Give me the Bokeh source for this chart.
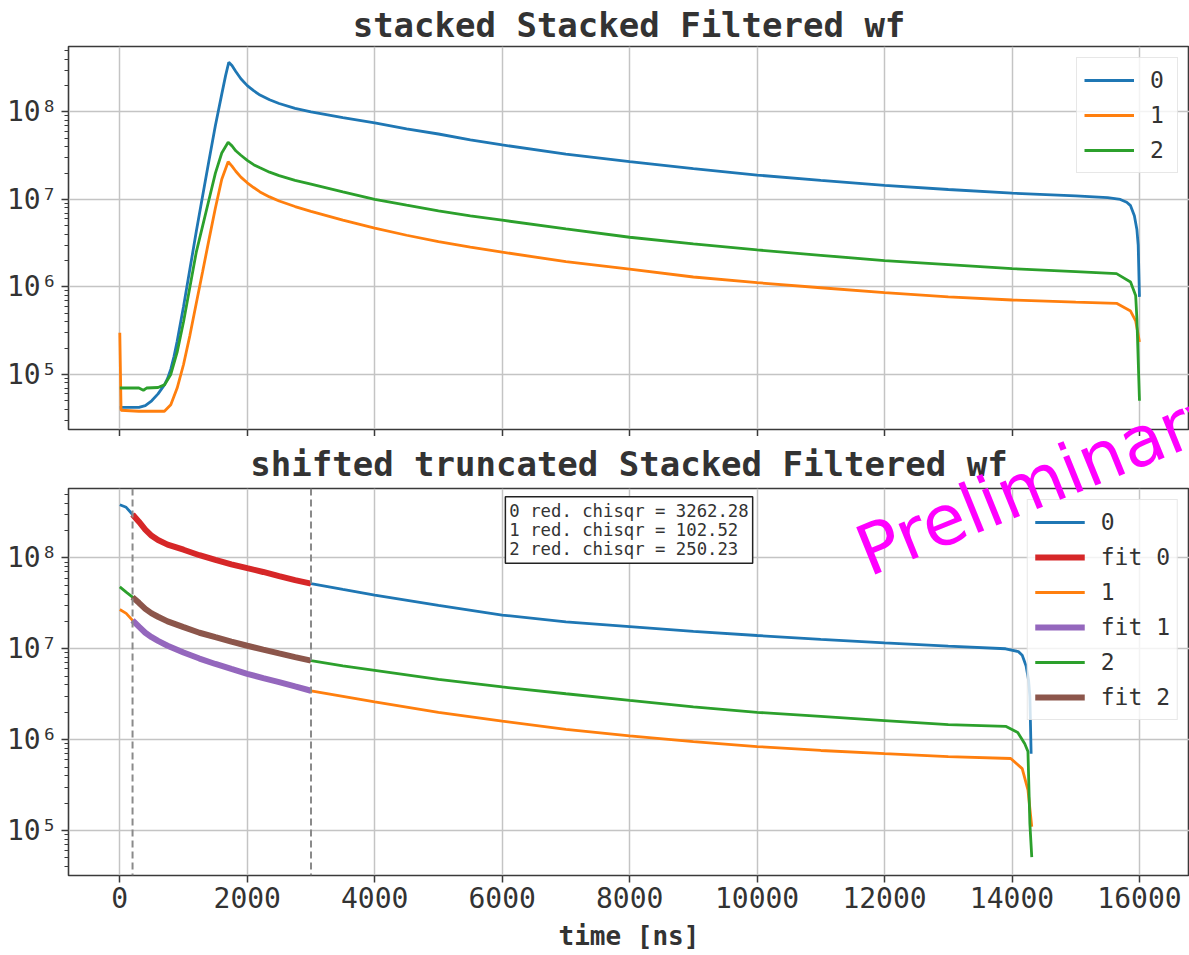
from bokeh.plotting import figure
from bokeh.layouts import column
from bokeh.models import (Range1d, Legend, LegendItem, Label, Span, Div,
                          CustomJSTickFormatter, SingleIntervalTicker, LogTicker)
from bokeh.embed import file_html
from bokeh.resources import INLINE

# ---------------- data ----------------
# top panel: stacked filtered waveforms
top0_x = [0, 100, 300, 400, 500, 600, 700, 750, 800, 850, 900, 950, 1000, 1100, 1200, 1300, 1400, 1500, 1600, 1660, 1710,
          1760, 1820, 1900, 2000, 2100, 2200, 2350, 2500, 2750, 3000, 3500, 4000, 4500, 5000, 5500, 6000, 7000, 8000, 9000, 10000,
          11000, 12000, 13000, 14000, 15000, 15500, 15700, 15800, 15860, 15920, 15960, 15980, 16000]
top0_y = [4.2e4, 4.2e4, 4.2e4, 4.4e4, 5.0e4, 6.0e4, 7.6e4, 9.0e4, 1.15e5, 1.6e5, 2.4e5, 3.8e5, 6.0e5, 1.6e6, 4.3e6, 1.1e7, 2.8e7, 7.0e7, 1.6e8, 2.6e8, 3.7e8,
          3.4e8, 2.9e8, 2.4e8, 2.0e8, 1.75e8, 1.56e8, 1.38e8, 1.25e8, 1.1e8, 1.0e8, 8.6e7, 7.5e7, 6.4e7, 5.6e7, 4.8e7, 4.2e7, 3.3e7, 2.7e7, 2.25e7, 1.9e7,
          1.65e7, 1.45e7, 1.3e7, 1.18e7, 1.1e7, 1.05e7, 1.0e7, 9.3e6, 8.5e6, 6.5e6, 4.5e6, 3.0e6, 7.7e5]

top1_x = [0, 20, 300, 700, 800, 900, 1000, 1100, 1200, 1300, 1400, 1500, 1600, 1700,
          1760, 1820, 1900, 2000, 2100, 2200, 2350, 2500, 2750, 3000, 3500, 4000, 4500, 5000, 5500, 6000, 7000, 8000, 9000, 10000,
          11000, 12000, 13000, 14000, 15000, 15640, 15860, 15940, 16000]
top1_y = [3.0e5, 3.9e4, 3.8e4, 3.8e4, 4.5e4, 7.0e4, 1.3e5, 2.8e5, 6.5e5, 1.5e6, 3.5e6, 8.0e6, 1.7e7, 2.7e7,
          2.4e7, 2.1e7, 1.8e7, 1.55e7, 1.37e7, 1.22e7, 1.07e7, 9.6e6, 8.3e6, 7.3e6, 5.8e6, 4.7e6, 3.9e6, 3.3e6, 2.85e6, 2.5e6, 1.95e6, 1.6e6, 1.3e6, 1.12e6,
          9.8e5, 8.6e5, 7.7e5, 7.1e5, 6.7e5, 6.5e5, 5.3e5, 4.1e5, 2.35e5]

top2_x = [0, 300, 370, 420, 600, 700, 800, 900, 1000, 1100, 1200, 1300, 1400, 1500, 1600, 1700,
          1760, 1820, 1900, 2000, 2100, 2200, 2350, 2500, 2750, 3000, 3500, 4000, 4500, 5000, 5500, 6000, 7000, 8000, 9000, 10000,
          11000, 12000, 13000, 14000, 15000, 15640, 15860, 15940, 15960, 16000]
top2_y = [7.0e4, 7.0e4, 6.6e4, 7.0e4, 7.1e4, 7.6e4, 1.0e5, 1.8e5, 4.0e5, 1.0e6, 2.5e6, 5.0e6, 1.0e7, 2.0e7, 3.4e7, 4.5e7,
          4.1e7, 3.6e7, 3.2e7, 2.8e7, 2.5e7, 2.3e7, 2.05e7, 1.87e7, 1.65e7, 1.5e7, 1.22e7, 1.0e7, 8.6e6, 7.4e6, 6.5e6, 5.8e6, 4.6e6, 3.7e6, 3.1e6, 2.65e6,
          2.3e6, 2.0e6, 1.8e6, 1.62e6, 1.5e6, 1.42e6, 1.14e6, 8.0e5, 4.3e5, 5.0e4]

# bottom panel: shifted, truncated waveforms
bot0_x = [0, 100, 200, 300, 400, 500, 600, 750, 1000, 1250, 1500, 1750, 2000, 2250, 2500, 2750, 3000, 3500, 4000, 5000, 6000,
          7000, 8000, 9000, 10000, 11000, 12000, 13000, 13900, 14100, 14160, 14220, 14260, 14280, 14300]
bot0_y = [3.85e8, 3.6e8, 3.0e8, 2.5e8, 2.05e8, 1.75e8, 1.57e8, 1.4e8, 1.23e8, 1.07e8, 9.5e7, 8.5e7, 7.7e7, 7.0e7, 6.3e7, 5.7e7, 5.2e7, 4.5e7, 3.9e7, 3.0e7, 2.35e7,
          1.98e7, 1.75e7, 1.55e7, 1.4e7, 1.27e7, 1.16e7, 1.07e7, 1.0e7, 9.3e6, 8.5e6, 6.5e6, 4.5e6, 3.0e6, 7.0e5]

bot1_x = [0, 100, 200, 300, 400, 500, 600, 750, 1000, 1250, 1500, 1750, 2000, 2250, 2500, 2750, 3000, 3500, 4000, 5000, 6000,
          7000, 8000, 9000, 10000, 11000, 12000, 13000, 13980, 14160, 14250, 14310]
bot1_y = [2.7e7, 2.45e7, 2.05e7, 1.75e7, 1.5e7, 1.34e7, 1.22e7, 1.08e7, 9.1e6, 7.8e6, 6.8e6, 6.0e6, 5.3e6, 4.75e6, 4.3e6, 3.85e6, 3.45e6, 3.0e6, 2.6e6, 2.0e6, 1.6e6,
          1.3e6, 1.1e6, 9.5e5, 8.4e5, 7.6e5, 7.0e5, 6.5e5, 6.2e5, 4.8e5, 2.8e5, 1.1e5]

bot2_x = [0, 100, 200, 300, 400, 500, 600, 750, 1000, 1250, 1500, 1750, 2000, 2250, 2500, 2750, 3000, 3500, 4000, 5000, 6000,
          7000, 8000, 9000, 10000, 11000, 12000, 13000, 13900, 14090, 14200, 14250, 14280, 14310]
bot2_y = [4.8e7, 4.2e7, 3.7e7, 3.2e7, 2.75e7, 2.45e7, 2.25e7, 2.0e7, 1.73e7, 1.5e7, 1.34e7, 1.2e7, 1.08e7, 9.8e6, 8.9e6, 8.1e6, 7.4e6, 6.5e6, 5.8e6, 4.6e6, 3.8e6,
          3.2e6, 2.7e6, 2.3e6, 2.0e6, 1.8e6, 1.62e6, 1.46e6, 1.4e6, 1.2e6, 9.0e5, 7.4e5, 1.2e5, 5.1e4]

fit_x = [200, 300, 400, 500, 600, 750, 1000, 1250, 1500, 1750, 2000, 2250, 2500, 2750, 3000]
fit0_y = [3.0e8, 2.5e8, 2.05e8, 1.75e8, 1.57e8, 1.4e8, 1.23e8, 1.07e8, 9.5e7, 8.5e7, 7.7e7, 7.0e7, 6.3e7, 5.7e7, 5.2e7]
fit1_y = [2.05e7, 1.75e7, 1.5e7, 1.34e7, 1.22e7, 1.08e7, 9.1e6, 7.8e6, 6.8e6, 6.0e6, 5.3e6, 4.75e6, 4.3e6, 3.85e6, 3.45e6]
fit2_y = [3.7e7, 3.2e7, 2.75e7, 2.45e7, 2.25e7, 2.0e7, 1.73e7, 1.5e7, 1.34e7, 1.2e7, 1.08e7, 9.8e6, 8.9e6, 8.1e6, 7.4e6]

fit_bounds = [200, 3000]
chisqr = [("0", 3262.28), ("1", 102.52), ("2", 250.23)]

titles = ["stacked Stacked Filtered wf", "shifted truncated Stacked Filtered wf"]
xlabel = "time [ns]"
watermark = "Preliminary"

C_BLUE, C_ORANGE, C_GREEN = "#1f77b4", "#ff7f0e", "#2ca02c"
C_RED, C_PURPLE, C_BROWN = "#d62728", "#9467bd", "#8c564b"

MONO = "DejaVu Sans Mono"
TXT = "#333333"

x_range = Range1d(-805, 16785)

sup_js = """
const sup = {"0":"\u2070","1":"\u00b9","2":"\u00b2","3":"\u00b3","4":"\u2074",
             "5":"\u2075","6":"\u2076","7":"\u2077","8":"\u2078","9":"\u2079","-":"\u207b"};
const e = Math.round(Math.log10(tick));
return "10" + String(e).split("").map(c => sup[c]).join("");
"""


def style(p, title, standoff):
    p.title.text = title
    p.title.text_font = MONO
    p.title.text_font_size = "34px"
    p.title.text_font_style = "bold"
    p.title.text_color = TXT
    p.title.align = "center"
    p.title.standoff = standoff
    p.outline_line_color = "#3a3a3a"
    p.outline_line_width = 1.6
    p.background_fill_color = "white"
    p.border_fill_color = "white"
    for g in (p.xgrid, p.ygrid):
        g.grid_line_color = "#c4c4c4"
        g.grid_line_width = 1.5
    p.xaxis.ticker = SingleIntervalTicker(interval=2000, num_minor_ticks=0)
    p.yaxis.ticker = LogTicker(num_minor_ticks=10)
    p.yaxis.formatter = CustomJSTickFormatter(code=sup_js)
    for ax in (p.xaxis, p.yaxis):
        ax.axis_line_color = None
        ax.major_tick_line_color = "#3a3a3a"
        ax.major_tick_line_width = 1.5
        ax.major_tick_out = 7
        ax.major_tick_in = 0
        ax.minor_tick_line_color = "#3a3a3a"
        ax.minor_tick_line_width = 1.2
        ax.minor_tick_out = 4
        ax.minor_tick_in = 0
        ax.major_label_text_font = MONO
        ax.major_label_text_font_size = "28px"
        ax.major_label_text_color = TXT
        ax.major_label_standoff = 4


def legend_style(lg):
    lg.location = "top_right"
    lg.label_text_font = MONO
    lg.label_text_font_size = "23px"
    lg.label_text_color = TXT
    lg.glyph_width = 50
    lg.glyph_height = 22
    lg.label_height = 30
    lg.spacing = 5
    lg.label_standoff = 16
    lg.padding = 7
    lg.margin = 11
    lg.border_line_color = "#d0d0d0"
    lg.border_line_width = 1
    lg.background_fill_alpha = 0.8


# ---------------- top panel ----------------
top = figure(width=1189, height=436, y_axis_type="log", x_range=x_range,
             y_range=Range1d(2.35e4, 5.6e8), output_backend="svg", toolbar_location=None,
             min_border_left=68, min_border_right=0, min_border_top=0, min_border_bottom=0)
style(top, titles[0], 4)
top.xaxis.formatter = CustomJSTickFormatter(code="return ''")
top.xaxis.major_label_text_font_size = "0px"
top.xaxis.major_label_standoff = 0

r0 = top.line(top0_x, top0_y, line_color=C_BLUE, line_width=2.8)
r1 = top.line(top1_x, top1_y, line_color=C_ORANGE, line_width=2.8)
r2 = top.line(top2_x, top2_y, line_color=C_GREEN, line_width=2.8)
lg_top = Legend(items=[LegendItem(label="0", renderers=[r0]),
                       LegendItem(label="1", renderers=[r1]),
                       LegendItem(label="2", renderers=[r2])])
legend_style(lg_top)
top.add_layout(lg_top)

# ---------------- bottom panel ----------------
bot = figure(width=1189, height=519, y_axis_type="log", x_range=x_range,
             y_range=Range1d(3.2e4, 5.8e8), output_backend="svg", toolbar_location=None,
             min_border_left=68, min_border_right=0, min_border_top=0, min_border_bottom=80)
style(bot, titles[1], 10)
bot.xaxis.axis_label = xlabel
bot.xaxis.axis_label_text_font = MONO
bot.xaxis.axis_label_text_font_size = "26px"
bot.xaxis.axis_label_text_font_style = "bold"
bot.xaxis.axis_label_text_color = TXT
bot.xaxis.axis_label_standoff = 10

b0 = bot.line(bot0_x, bot0_y, line_color=C_BLUE, line_width=2.8)
f0 = bot.line(fit_x, fit0_y, line_color=C_RED, line_width=6)
b1 = bot.line(bot1_x, bot1_y, line_color=C_ORANGE, line_width=2.8)
f1 = bot.line(fit_x, fit1_y, line_color=C_PURPLE, line_width=6)
b2 = bot.line(bot2_x, bot2_y, line_color=C_GREEN, line_width=2.8)
f2 = bot.line(fit_x, fit2_y, line_color=C_BROWN, line_width=6)

for xb in fit_bounds:
    bot.add_layout(Span(location=xb, dimension="height", line_color="#8a8a8a",
                        line_width=2, line_dash="7 4"))

box_text = "\n".join(f"{k} red. chisqr = {v:.2f}" for k, v in chisqr)
bot.add_layout(Label(x=6050, y=4.7e8, text=box_text, text_font=MONO, text_font_size="17.3px",
                     text_color=TXT, text_align="left", text_baseline="top", text_line_height=0.96,
                     border_line_color="#222222", border_line_width=1.5,
                     background_fill_color="white", padding=4))

lg_bot = Legend(items=[LegendItem(label="0", renderers=[b0]),
                       LegendItem(label="fit 0", renderers=[f0]),
                       LegendItem(label="1", renderers=[b1]),
                       LegendItem(label="fit 1", renderers=[f1]),
                       LegendItem(label="2", renderers=[b2]),
                       LegendItem(label="fit 2", renderers=[f2])])
legend_style(lg_bot)
bot.add_layout(lg_bot)

# watermark drawn over both panels (absolutely positioned text)
wm = Div(text=watermark, styles={
    "position": "absolute", "left": "864px", "top": "513px", "z-index": "10",
    "color": "#ff00ff", "font-family": "DejaVu Sans", "font-size": "70px",
    "line-height": "70px", "white-space": "nowrap", "pointer-events": "none",
    "transform-origin": "0px 59px", "transform": "rotate(-22deg)"})

layout = column(top, bot, wm, spacing=0)
open("out.html", "w").write(file_html(layout, INLINE))
